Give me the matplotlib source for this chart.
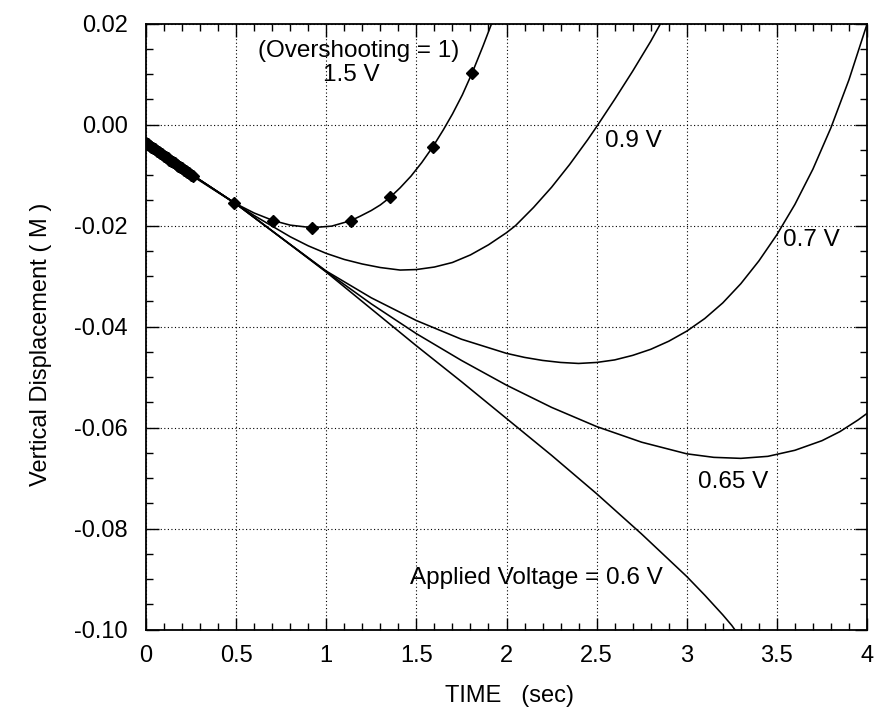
import matplotlib
matplotlib.use('Agg')
import matplotlib.pyplot as plt
from matplotlib.ticker import MultipleLocator, FixedLocator, FixedFormatter

plt.rcParams['font.family'] = ['Liberation Sans', 'DejaVu Sans']
plt.rcParams['axes.unicode_minus'] = False

# ---------------- data ----------------
x_ticks = [0, 0.5, 1, 1.5, 2, 2.5, 3, 3.5, 4]
x_ticklabels = ["0", "0.5", "1", "1.5", "2", "2.5", "3", "3.5", "4"]
y_ticks = [-0.10, -0.08, -0.06, -0.04, -0.02, 0.00, 0.02]
y_ticklabels = ["-0.10", "-0.08", "-0.06", "-0.04", "-0.02", "0.00", "0.02"]

t_060 = [0, 0.25, 0.5, 0.75, 1.0, 1.25, 1.5, 1.75, 2.0, 2.25, 2.5, 2.75, 3.0,
         3.1, 3.2, 3.25, 3.27]
d_060 = [-0.0037, -0.0098, -0.0157, -0.0224, -0.0292, -0.0365, -0.0438, -0.0509,
         -0.0582, -0.0655, -0.0731, -0.0811, -0.0895, -0.0932, -0.0971, -0.0992,
         -0.1002]

t_065 = [0, 0.25, 0.5, 0.75, 1.0, 1.25, 1.5, 1.75, 2.0, 2.25, 2.5, 2.75, 3.0,
         3.15, 3.3, 3.45, 3.6, 3.75, 3.85, 3.95, 4.0]
d_065 = [-0.0037, -0.0098, -0.0157, -0.0224, -0.0291, -0.0355, -0.0414, -0.0467,
         -0.0516, -0.0560, -0.0598, -0.0629, -0.0652, -0.0659, -0.0661, -0.0657,
         -0.0645, -0.0626, -0.0608, -0.0585, -0.0572]

t_070 = [0, 0.25, 0.5, 0.75, 1.0, 1.25, 1.5, 1.75, 2.0, 2.1, 2.2, 2.3, 2.4, 2.5,
         2.6, 2.7, 2.8, 2.9, 3.0, 3.1, 3.2, 3.3, 3.4, 3.5, 3.6, 3.7, 3.8, 3.9, 4.0]
d_070 = [-0.0037, -0.0098, -0.0157, -0.0224, -0.0290, -0.0343, -0.0388, -0.0425,
         -0.0453, -0.0461, -0.0467, -0.0471, -0.0473, -0.0471, -0.0466, -0.0457,
         -0.0445, -0.0429, -0.0409, -0.0384, -0.0353, -0.0315, -0.0270, -0.0218,
         -0.0158, -0.0088, -0.0006, 0.0089, 0.0199]

t_090 = [0, 0.25, 0.5, 0.6, 0.7, 0.8, 0.9, 1.0, 1.1, 1.2, 1.3, 1.41, 1.5, 1.6,
         1.7, 1.8, 1.9, 2.0, 2.05, 2.15, 2.25, 2.35, 2.45, 2.5, 2.6, 2.7, 2.8, 2.87]
d_090 = [-0.0037, -0.0098, -0.0157, -0.0180, -0.0201, -0.0222, -0.0240, -0.0255,
         -0.0267, -0.0276, -0.0283, -0.0288, -0.0287, -0.0282, -0.0273, -0.0258,
         -0.0238, -0.0214, -0.0200, -0.0164, -0.0124, -0.0079, -0.0030, -0.0004,
         0.0050, 0.0106, 0.0165, 0.0210]

t_150 = [0, 0.25, 0.49, 0.6, 0.706, 0.8, 0.92, 1.03, 1.137, 1.19, 1.25, 1.30,
         1.354, 1.41, 1.47, 1.53, 1.591, 1.65, 1.70, 1.755, 1.81, 1.87, 1.93]
d_150 = [-0.0037, -0.0100, -0.0155, -0.0175, -0.0190, -0.0199, -0.0204, -0.0201,
         -0.0190, -0.0181, -0.0170, -0.0159, -0.0144, -0.0125, -0.0102, -0.0075,
         -0.0044, -0.0010, 0.0021, 0.0059, 0.0103, 0.0156, 0.0212]

# diamond markers on the 1.5 V (overshooting) run
mk_t = [0.00, 0.01, 0.02, 0.03, 0.04, 0.05, 0.06, 0.07, 0.08, 0.09, 0.10, 0.11,
        0.12, 0.13, 0.14, 0.15, 0.16, 0.17, 0.18, 0.19, 0.20, 0.21, 0.22, 0.23,
        0.24, 0.25, 0.26, 0.49, 0.706, 0.92, 1.137, 1.354, 1.591, 1.81]
mk_d = [-0.0037, -0.0039, -0.0042, -0.0044, -0.0047, -0.0049, -0.0052, -0.0054,
        -0.0057, -0.0059, -0.0062, -0.0064, -0.0067, -0.0069, -0.0071, -0.0074,
        -0.0076, -0.0079, -0.0081, -0.0084, -0.0086, -0.0089, -0.0091, -0.0094,
        -0.0096, -0.0099, -0.0101, -0.0155, -0.0190, -0.0204, -0.0190, -0.0144,
        -0.0044, 0.0103]

# ---------------- figure ----------------
W, H = 876, 712
fig = plt.figure(figsize=(W / 100, H / 100), dpi=100)
L, R, T, B = 146, 867, 23.7, 629.5
ax = fig.add_axes([L / W, 1 - B / H, (R - L) / W, (B - T) / H])

lw = 1.15
for t, d in [(t_060, d_060), (t_065, d_065), (t_070, d_070), (t_090, d_090), (t_150, d_150)]:
    ax.plot(t, d, color='black', lw=lw, solid_joinstyle='round')
ax.plot(mk_t, mk_d, linestyle='none', marker='D', ms=6, color='black')

ax.set_xlim(0, 4)
ax.set_ylim(-0.10, 0.02)
ax.xaxis.set_major_locator(FixedLocator(x_ticks))
ax.xaxis.set_major_formatter(FixedFormatter(x_ticklabels))
ax.yaxis.set_major_locator(FixedLocator(y_ticks))
ax.yaxis.set_major_formatter(FixedFormatter(y_ticklabels))
ax.xaxis.set_minor_locator(MultipleLocator(0.1))
ax.yaxis.set_minor_locator(MultipleLocator(0.005))

ax.grid(True, which='major', color='black', linestyle=(0, (1, 2.2)), linewidth=0.8)
ax.tick_params(which='both', direction='in', top=True, right=True, width=1.0)
ax.tick_params(which='major', length=9, labelsize=17)
ax.tick_params(which='minor', length=5)
ax.tick_params(axis='x', which='major', pad=11)
ax.tick_params(axis='y', which='major', pad=13)
for s in ax.spines.values():
    s.set_linewidth(1.3)

fs = 17.5
ax.text(1.178, 0.0146, "(Overshooting = 1)", fontsize=fs, ha='center', va='center')
ax.text(1.141, 0.0098, "1.5 V", fontsize=fs, ha='center', va='center')
ax.text(2.546, -0.0032, "0.9 V", fontsize=fs, ha='left', va='center')
ax.text(3.536, -0.0228, "0.7 V", fontsize=fs, ha='left', va='center')
ax.text(3.064, -0.0707, "0.65 V", fontsize=fs, ha='left', va='center')
ax.text(1.465, -0.0898, "Applied Voltage = 0.6 V", fontsize=fs, ha='left', va='center')

ax.set_xlabel("TIME   (sec)", fontsize=17)
ax.set_ylabel("Vertical Displacement ( M )", fontsize=17)
ax.xaxis.set_label_coords(0.5035, -0.092)
ax.yaxis.set_label_coords(-0.13, 0.47)

fig.savefig("out.png", dpi=100)
